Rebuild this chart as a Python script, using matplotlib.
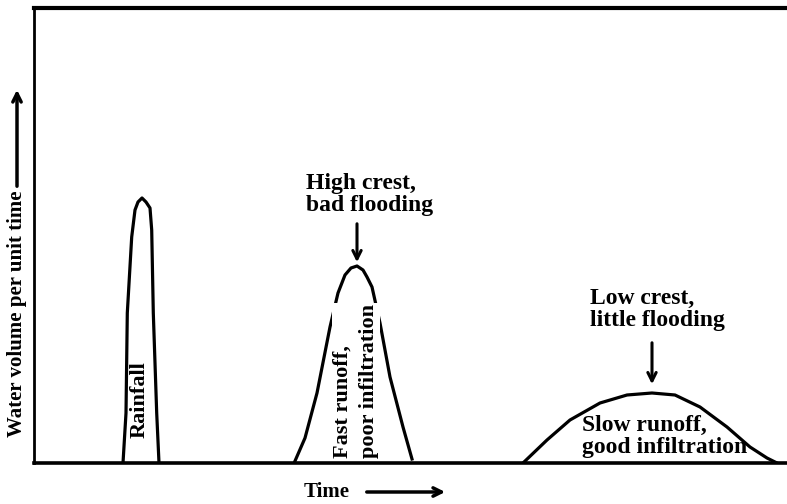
import numpy as np
import matplotlib.pyplot as plt

plt.rcParams['font.family'] = ['Liberation Serif', 'DejaVu Serif']
plt.rcParams['font.weight'] = 'bold'

# hydrograph shapes (time, flow), arbitrary units
rain_t = [89, 92, 93.3, 97.7, 101, 104, 108, 112, 116, 117.7, 119.3, 122.7, 125]
rain_q = [0, 50, 150, 226, 253, 261, 265, 261, 255, 233, 150, 50, 0]

fast_t = [261, 271, 283, 296, 304, 311, 317, 323, 329, 333, 338, 346, 356, 369, 378]
fast_q = [2, 25, 70, 136, 170, 188, 195, 197, 193, 186, 176, 140, 86, 36, 4]

slow_t = [489, 513, 536, 566, 593, 618, 641, 666, 693, 716, 733, 743]
slow_q = [0, 23, 43, 60, 68, 70, 68, 56, 36, 16, 5, 0]

high_crest = (323, 197)
low_crest = (618, 70)

fig = plt.figure(figsize=(7.87, 5.04), dpi=100)
ax = fig.add_axes([34 / 787, 41 / 504, 753 / 787, 455 / 504])
ax.set_xlim(0, 753)
ax.set_ylim(0, 455)
ax.set_xticks([])
ax.set_yticks([])
ax.spines['right'].set_visible(False)
ax.spines['top'].set_linewidth(3.0)
ax.spines['left'].set_linewidth(2.0)
ax.spines['bottom'].set_linewidth(2.6)

for t, q in [(rain_t, rain_q), (fast_t, fast_q), (slow_t, slow_q)]:
    ax.plot(t, q, color='black', lw=2.3, solid_joinstyle='round', zorder=2)

fs = 17
arrow = dict(arrowstyle='->,head_length=0.6,head_width=0.3', lw=2.2, color='black')

ax.text(106, 63, 'Rainfall', rotation=90, ha='center', va='center', fontsize=16)
ax.text(322, 5, 'Fast runoff,\npoor infiltration', rotation=90, ha='center', va='bottom',
        multialignment='left', fontsize=16, linespacing=1.4, zorder=3,
        bbox=dict(facecolor='white', edgecolor='none', pad=1))

ax.text(272, 290, 'High crest,\nbad flooding', ha='left', va='top', fontsize=fs, linespacing=1.08)
ax.annotate('', xy=(high_crest[0], high_crest[1] + 1), xytext=(high_crest[0], high_crest[1] + 45),
            arrowprops=arrow)

ax.text(556, 175, 'Low crest,\nlittle flooding', ha='left', va='top', fontsize=fs, linespacing=1.08)
ax.annotate('', xy=(low_crest[0], low_crest[1] + 6), xytext=(low_crest[0], low_crest[1] + 53),
            arrowprops=arrow)

ax.text(548, 48, 'Slow runoff,\ngood infiltration', ha='left', va='top', fontsize=fs, linespacing=1.08)

# axis captions with arrows
fig.text(327 / 787, 12 / 504, 'Time', ha='center', va='center', fontsize=15)
ax.annotate('', xy=(448, 12), xytext=(364, 12), xycoords='figure pixels',
            arrowprops=dict(arrow, lw=2.5))
fig.text(17 / 787, 190 / 504, 'Water volume per unit time', rotation=90, ha='center', va='center',
         fontsize=15)
ax.annotate('', xy=(17, 417), xytext=(17, 315), xycoords='figure pixels',
            arrowprops=dict(arrow, lw=2.5))

fig.savefig('out.png', dpi=100)
